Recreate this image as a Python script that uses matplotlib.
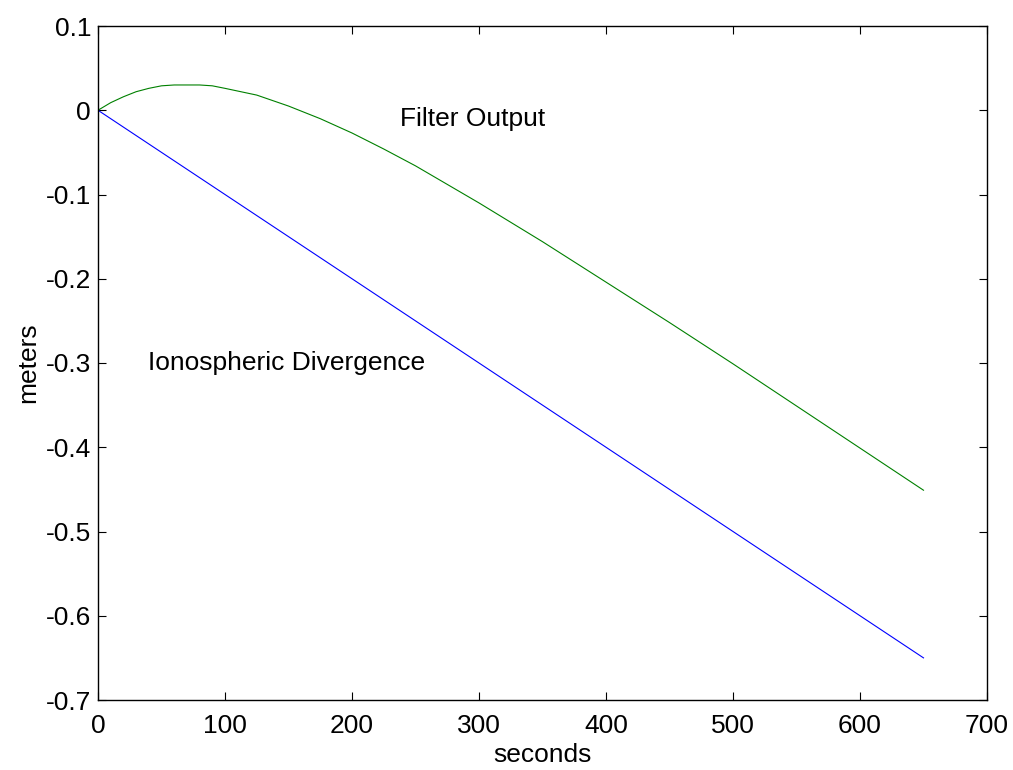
import matplotlib
matplotlib.use("Agg")
import matplotlib.pyplot as plt

# values
t_div = [0, 50, 100, 150, 200, 250, 300, 350, 400, 450, 500, 550, 600, 650]
divergence = [0.0, -0.05, -0.10, -0.15, -0.20, -0.25, -0.30, -0.35, -0.40,
              -0.45, -0.50, -0.55, -0.60, -0.65]

t_filt = [0, 10, 20, 30, 40, 50, 60, 70, 80, 90, 100, 125, 150, 175, 200,
          225, 250, 300, 350, 400, 450, 500, 550, 600, 650]
filter_out = [0.0, 0.009, 0.016, 0.022, 0.026, 0.029, 0.030, 0.030, 0.030,
              0.029, 0.026, 0.018, 0.005, -0.010, -0.027, -0.046, -0.066,
              -0.110, -0.156, -0.204, -0.252, -0.301, -0.351, -0.401, -0.451]

xticks = [0, 100, 200, 300, 400, 500, 600, 700]
yticks = [0.1, 0, -0.1, -0.2, -0.3, -0.4, -0.5, -0.6, -0.7]
yticklabels = ["0.1", "0", "-0.1", "-0.2", "-0.3", "-0.4", "-0.5", "-0.6", "-0.7"]

plt.rcParams["font.family"] = ["Liberation Sans", "DejaVu Sans"]
plt.rcParams["font.size"] = 19

fig = plt.figure(figsize=(10.13, 7.70), dpi=100)
ax = fig.add_axes([98 / 1013, 70 / 770, 889 / 1013, 674 / 770])

ax.plot(t_div, divergence, color=(0, 0, 1), linewidth=0.8)
ax.plot(t_filt, filter_out, color=(0, 0.5, 0), linewidth=0.8)

ax.text(238, -0.01, "Filter Output", ha="left", va="center")
ax.text(39, -0.30, "Ionospheric Divergence", ha="left", va="center")

ax.set_xlim(0, 700)
ax.set_ylim(-0.7, 0.1)
ax.set_xticks(xticks)
ax.set_yticks(yticks)
ax.set_yticklabels(yticklabels)
ax.tick_params(direction="in", length=6, width=0.8, top=True, right=True)
ax.tick_params(axis="x", pad=10)
ax.tick_params(axis="y", pad=5)
for s in ax.spines.values():
    s.set_linewidth(1.0)

ax.set_xlabel("seconds", labelpad=4)
ax.set_ylabel("meters", labelpad=4)

fig.savefig("out.png", dpi=100)
